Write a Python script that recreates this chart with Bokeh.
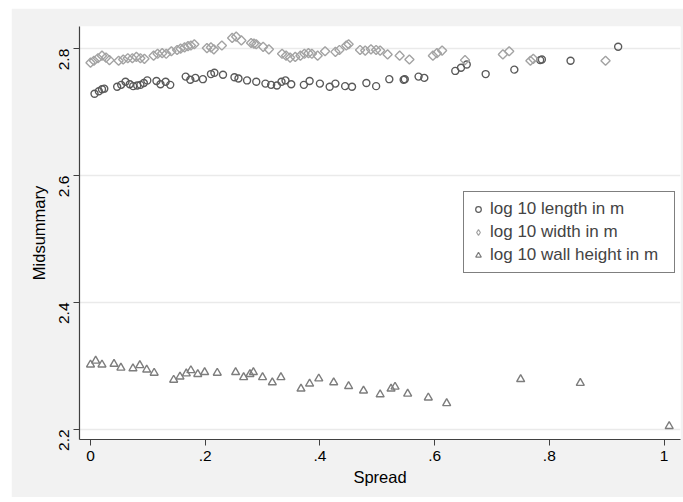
import math
from bokeh.plotting import figure
from bokeh.models import FixedTicker, Legend, LegendItem, Range1d
from bokeh.embed import file_html
from bokeh.resources import INLINE

# log 10 length in m
len_x = [0.007, 0.0145, 0.020, 0.024, 0.0465, 0.0535, 0.061, 0.0685, 0.0744, 0.0814,
         0.087, 0.093, 0.099, 0.115, 0.122, 0.131, 0.139, 0.166, 0.174, 0.183,
         0.196, 0.210, 0.216, 0.231, 0.251, 0.258, 0.273, 0.289, 0.305, 0.315,
         0.325, 0.333, 0.340, 0.350, 0.372, 0.382, 0.400, 0.417, 0.427, 0.444,
         0.456, 0.481, 0.498, 0.521, 0.546, 0.548, 0.572, 0.582, 0.636, 0.646,
         0.656, 0.689, 0.739, 0.784, 0.787, 0.837, 0.920]
len_y = [2.729, 2.733, 2.736, 2.737, 2.740, 2.743, 2.748, 2.744, 2.741, 2.742,
         2.743, 2.746, 2.750, 2.749, 2.744, 2.748, 2.743, 2.756, 2.751, 2.754,
         2.752, 2.760, 2.762, 2.759, 2.755, 2.753, 2.750, 2.748, 2.745, 2.743,
         2.742, 2.748, 2.750, 2.744, 2.743, 2.749, 2.745, 2.740, 2.745, 2.741,
         2.740, 2.746, 2.741, 2.752, 2.751, 2.752, 2.756, 2.754, 2.765, 2.770,
         2.775, 2.760, 2.767, 2.782, 2.783, 2.781, 2.803]

# log 10 width in m
wid_x = [0.000, 0.006, 0.013, 0.020, 0.027, 0.033, 0.049, 0.057, 0.065, 0.073,
         0.080, 0.087, 0.094, 0.110, 0.117, 0.125, 0.132, 0.141, 0.151, 0.157,
         0.164, 0.170, 0.175, 0.181, 0.203, 0.210, 0.215, 0.229, 0.247, 0.254,
         0.263, 0.280, 0.285, 0.289, 0.301, 0.311, 0.334, 0.341, 0.348, 0.357,
         0.366, 0.373, 0.380, 0.386, 0.396, 0.409, 0.427, 0.434, 0.446, 0.450,
         0.470, 0.479, 0.489, 0.498, 0.505, 0.518, 0.539, 0.556, 0.597, 0.604,
         0.613, 0.653, 0.719, 0.730, 0.767, 0.772, 0.898]
wid_y = [2.778, 2.781, 2.785, 2.789, 2.786, 2.782, 2.781, 2.783, 2.785, 2.785,
         2.787, 2.785, 2.784, 2.789, 2.792, 2.793, 2.792, 2.796, 2.798, 2.800,
         2.802, 2.804, 2.805, 2.807, 2.801, 2.802, 2.799, 2.805, 2.817, 2.819,
         2.813, 2.809, 2.808, 2.807, 2.803, 2.799, 2.792, 2.789, 2.786, 2.787,
         2.789, 2.792, 2.793, 2.792, 2.789, 2.796, 2.795, 2.798, 2.805, 2.807,
         2.798, 2.797, 2.799, 2.798, 2.797, 2.791, 2.789, 2.783, 2.789, 2.793,
         2.797, 2.782, 2.791, 2.796, 2.781, 2.784, 2.781]

# log 10 wall height in m
hgt_x = [0.000, 0.009, 0.020, 0.041, 0.053, 0.074, 0.086, 0.098, 0.111, 0.145,
         0.156, 0.167, 0.175, 0.187, 0.199, 0.221, 0.253, 0.267, 0.278, 0.284,
         0.300, 0.317, 0.332, 0.367, 0.382, 0.398, 0.424, 0.450, 0.476, 0.505,
         0.524, 0.531, 0.553, 0.589, 0.621, 0.750, 0.854, 1.009]
hgt_y = [2.302, 2.308, 2.302, 2.303, 2.297, 2.296, 2.301, 2.294, 2.289, 2.278,
         2.283, 2.288, 2.293, 2.287, 2.290, 2.289, 2.290, 2.282, 2.287, 2.290,
         2.282, 2.274, 2.282, 2.264, 2.272, 2.280, 2.274, 2.268, 2.261, 2.255,
         2.264, 2.267, 2.256, 2.250, 2.241, 2.279, 2.273, 2.205]

x_ticks = [0, 0.2, 0.4, 0.6, 0.8, 1.0]
x_tick_labels = ["0", ".2", ".4", ".6", ".8", "1"]
y_ticks = [2.2, 2.4, 2.6, 2.8]
y_tick_labels = ["2.2", "2.4", "2.6", "2.8"]

FONT = "Liberation Sans"
BG = "#f2f2f2"
C_LEN, C_WID, C_HGT = "#5a5a5a", "#a3a3a3", "#7d7d7d"
NAN = [float("nan")]

p = figure(width=672, height=489, output_backend="svg", toolbar_location=None,
           x_range=Range1d(-0.0192, 1.0287), y_range=Range1d(2.184, 2.835),
           min_border_left=68, min_border_right=3, min_border_top=18, min_border_bottom=58)
p.margin = (8, 0, 0, 11)
p.background_fill_color = "white"
p.border_fill_color = BG
p.outline_line_color = None

r1 = p.scatter(len_x, len_y, marker="circle", size=7, fill_color=None,
               line_color=C_LEN, line_width=1.4)
r2 = p.scatter(wid_x, wid_y, marker="square", size=6.5, angle=math.pi / 4, fill_color=None,
               line_color=C_WID, line_width=1.4)
r3 = p.scatter(hgt_x, hgt_y, marker="triangle", size=8, fill_color=None,
               line_color=C_HGT, line_width=1.4)

# legend-only glyphs (no visible data)
l1 = p.scatter(NAN, NAN, marker="circle", size=6, fill_color=None, line_color=C_LEN, line_width=1.2)
l2 = p.scatter(NAN, NAN, marker="diamond", size=9, fill_color=None, line_color=C_WID, line_width=1.2)
l3 = p.scatter(NAN, NAN, marker="triangle", size=7, fill_color=None, line_color=C_HGT, line_width=1.2)

p.xaxis.ticker = FixedTicker(ticks=x_ticks)
p.xaxis.major_label_overrides = {t: l for t, l in zip(x_ticks, x_tick_labels)}
p.yaxis.ticker = FixedTicker(ticks=y_ticks)
p.yaxis.major_label_overrides = {t: l for t, l in zip(y_ticks, y_tick_labels)}
p.yaxis.major_label_orientation = math.pi / 2
p.xaxis.axis_label = "Spread"
p.yaxis.axis_label = "Midsummary"

for ax in (p.xaxis[0], p.yaxis[0]):
    ax.axis_line_color = "#404040"
    ax.axis_line_width = 1.2
    ax.major_tick_line_color = "#404040"
    ax.major_tick_out = 6
    ax.major_tick_in = 0
    ax.minor_tick_line_color = None
    ax.major_label_text_font = FONT
    ax.major_label_text_font_size = "15.5px"
    ax.major_label_text_color = "black"
    ax.axis_label_text_font = FONT
    ax.axis_label_text_font_size = "16.5px"
    ax.axis_label_text_font_style = "normal"
    ax.axis_label_text_color = "black"

p.xaxis.major_label_standoff = 5
p.xaxis.axis_label_standoff = 4
p.yaxis.major_label_standoff = 9
p.yaxis.axis_label_standoff = 4

p.xgrid.grid_line_color = None
p.ygrid.grid_line_color = "#eaeaea"
p.ygrid.grid_line_width = 1.5

legend = Legend(items=[
    LegendItem(label="log 10 length in m", renderers=[l1]),
    LegendItem(label="log 10 width in m", renderers=[l2]),
    LegendItem(label="log 10 wall height in m", renderers=[l3]),
], location=(384, 166))
legend.border_line_color = "black"
legend.border_line_width = 1
legend.background_fill_color = "white"
legend.background_fill_alpha = 1
legend.label_text_font = FONT
legend.label_text_font_size = "17px"
legend.glyph_width = 14
legend.glyph_height = 14
legend.spacing = 3
legend.padding = 7
legend.margin = 0
legend.label_standoff = 5
legend.label_height = 20
legend.label_width = 177
p.add_layout(legend)

open("out.html", "w").write(file_html(p, INLINE))
